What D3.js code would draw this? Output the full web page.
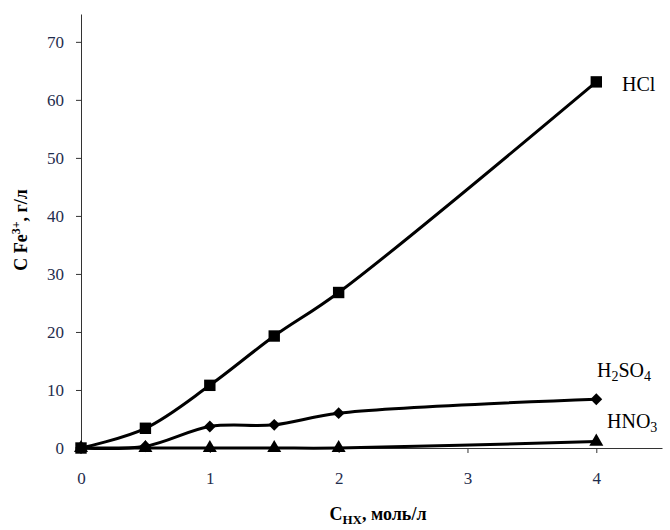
<!DOCTYPE html>
<html>
<script src='https://d3js.org/d3.v7.min.js'></script>
<style>
 body {margin:0; background:#fff;}
 text {font-family: 'Liberation Serif', 'DejaVu Serif', serif;}
</style>
<body onload='init()'>
<svg width=670 height=530>
</svg>
<script>

// data
var conc = [0, 0.5, 1, 1.5, 2, 4];
var hcl = [0, 3.4, 10.8, 19.3, 26.8, 63.1];
var h2so4 = [0, 0.3, 3.7, 4.0, 6.0, 8.4];
var hno3 = [0, 0, 0, 0, 0, 1.1];
var xTicks = [0, 1, 2, 3, 4];
var yTicks = [0, 10, 20, 30, 40, 50, 60, 70];

function init() {

 var svg = d3.select('svg');

 // axis origin at (81, 448)
 var x = d3.scaleLinear().domain([0, 4.51]).range([81, 662]);
 var y = d3.scaleLinear().domain([0, 74.8]).range([448, 14]);

 svg.append('g')
  .attr('transform', 'translate(81,0)')
  .call(d3.axisLeft(y).tickValues(yTicks).tickFormat(d3.format('d')).tickSize(5).tickSizeOuter(0))
  .call(function (g) {
    g.attr('font-family', null);
    g.select('.domain').attr('stroke', '#333');
    g.selectAll('.tick line').attr('stroke', '#333');
    g.selectAll('text').attr('font-size', 17).attr('fill', '#1f2d4d')
     .style('font-family', "'Liberation Serif', serif").attr('x', -17);
  });

 svg.append('g')
  .attr('transform', 'translate(0,448)')
  .call(d3.axisBottom(x).tickValues(xTicks).tickFormat(d3.format('d')).tickSize(5).tickSizeOuter(0))
  .call(function (g) {
    g.attr('font-family', null);
    g.select('.domain').attr('stroke', '#333');
    g.selectAll('.tick line').attr('stroke', '#333');
    g.selectAll('text').attr('font-size', 17).attr('fill', '#1f2d4d')
     .style('font-family', "'Liberation Serif', serif").attr('y', 24);
  });

 var line = d3.line()
  .x(function (d, i) { return x(conc[i]); })
  .y(function (d) { return y(d); })
  .curve(d3.curveCatmullRom.alpha(0.5));

 var series = [
  {vals: hno3, sym: d3.symbolTriangle, size: 85},
  {vals: h2so4, sym: d3.symbolSquare, size: 70, rot: 45},
  {vals: hcl, sym: d3.symbolSquare, size: 130}
 ];

 series.forEach(function (s) {
  svg.append('path')
   .attr('d', line(s.vals))
   .attr('fill', 'none')
   .attr('stroke', 'black')
   .attr('stroke-width', 3);

  svg.append('g').selectAll('path')
   .data(s.vals)
   .enter()
    .append('path')
     .attr('transform', function (d, i) {
       return 'translate(' + x(conc[i]) + ',' + y(d) + ')' + (s.rot ? ' rotate(' + s.rot + ')' : '');
     })
     .attr('d', d3.symbol().type(s.sym).size(s.size))
     .attr('fill', 'black');
 });

 // series labels
 svg.append('text').attr('x', 622).attr('y', 91).attr('font-size', 20).text('HCl');

 var t1 = svg.append('text').attr('x', 597).attr('y', 377).attr('font-size', 20);
 t1.append('tspan').text('H');
 t1.append('tspan').attr('font-size', 14).attr('dy', 4).text('2');
 t1.append('tspan').attr('dy', -4).text('SO');
 t1.append('tspan').attr('font-size', 14).attr('dy', 4).text('4');

 var t2 = svg.append('text').attr('x', 607).attr('y', 428).attr('font-size', 20);
 t2.append('tspan').text('HNO');
 t2.append('tspan').attr('font-size', 14).attr('dy', 4).text('3');

 // axis titles
 var yt = svg.append('text')
  .attr('transform', 'translate(27,230) rotate(-90)')
  .attr('text-anchor', 'middle')
  .attr('font-size', 18)
  .attr('font-weight', 'bold');
 yt.append('tspan').text('C Fe');
 yt.append('tspan').attr('font-size', 12).attr('dy', -7).text('3+');
 yt.append('tspan').attr('dy', 7).text(', г/л');

 var xt = svg.append('text')
  .attr('x', 378).attr('y', 520)
  .attr('text-anchor', 'middle')
  .attr('font-size', 18)
  .attr('font-weight', 'bold');
 xt.append('tspan').text('C');
 xt.append('tspan').attr('font-size', 13).attr('dy', 4).text('HX');
 xt.append('tspan').attr('dy', -4).text(', моль/л');

}

</script>
</body>
</html>
